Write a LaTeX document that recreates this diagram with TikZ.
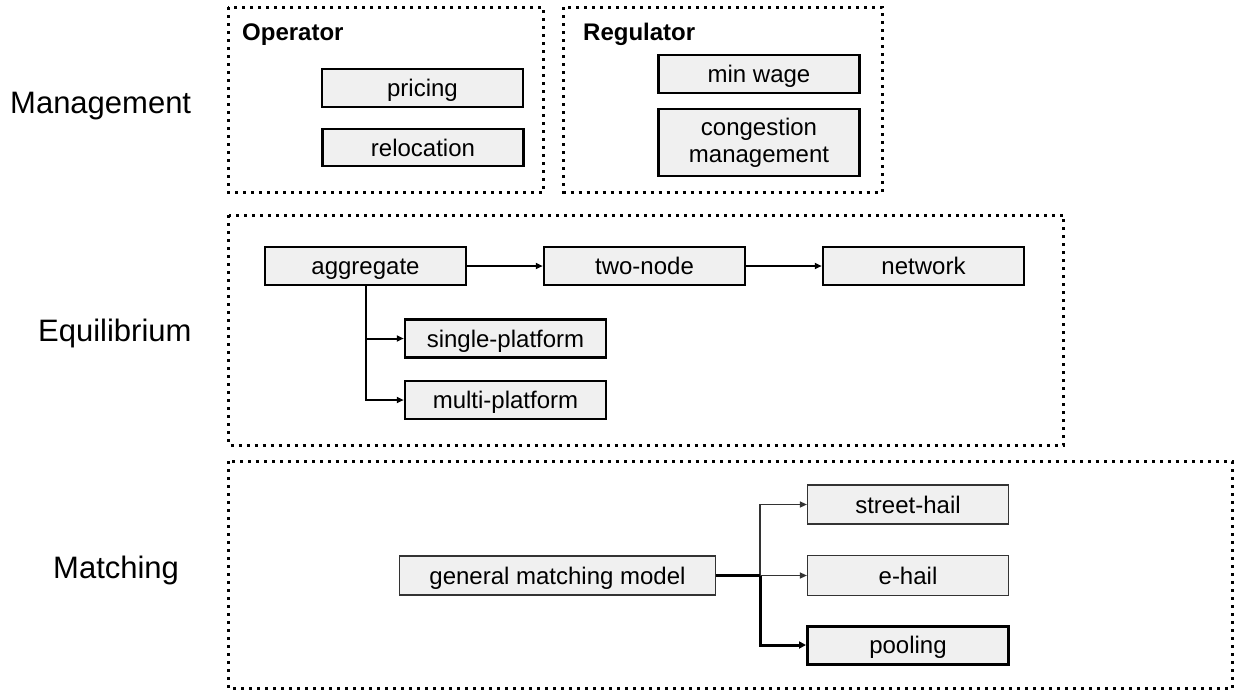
\documentclass[tikz,border=0pt]{standalone}
\usepackage{fontspec}
\setmainfont{Liberation Sans}
\usetikzlibrary{arrows.meta}
\definecolor{boxgray}{RGB}{240,240,240}
\begin{document}
\begin{tikzpicture}[x=1pt,y=-1pt,
  group/.style={draw=black, line width=3pt, dash pattern=on 3pt off 5pt},
  lbl/.style={anchor=base west, inner sep=0pt, font=\fontsize{31}{36}\selectfont},
  grouptitle/.style={anchor=base west, inner sep=0pt, font=\fontsize{24}{28}\selectfont\bfseries},
  box/.style={draw=black, line width=2.5pt, fill=boxgray, minimum width=201pt, minimum height=38pt,
    inner sep=0pt, text height=17pt, text depth=0pt, font=\fontsize{24}{28}\selectfont},
  twoline/.style={box, text height=, text depth=, align=center, font=\fontsize{24}{27}\selectfont},
  thinbox/.style={box, line width=1.2pt, draw=black!80},
  thickbox/.style={box, line width=3pt},
  arr/.style={line width=2pt, -{Triangle[length=7pt,width=6pt]}},
  thinarr/.style={line width=1.3pt, draw=black!80, -{Triangle[length=7pt,width=6pt]}},
  thickarr/.style={line width=3pt, -{Triangle[length=7pt,width=7pt]}}
]
\useasboundingbox (0,0) rectangle (1234,694);

% group frames
\draw[group] (228,7) rectangle (543.5,192);
\draw[group] (563.5,7) rectangle (882,192);
\draw[group] (228.5,215) rectangle (1063.5,445);
\draw[group] (228.5,461) rectangle (1232,688.5);

% side labels
\node[lbl] (lmanagement) at (10,113) {Management};
\node[lbl] (lequilibrium) at (38,341) {Equilibrium};
\node[lbl] (lmatching) at (53,578) {Matching};

% group titles
\node[grouptitle] (operator) at (242,40) {Operator};
\node[grouptitle] (regulator) at (583,40) {Regulator};

% management boxes
\node[box] (pricing) at (422.5,88) {pricing};
\node[box, minimum height=37pt] (relocation) at (423,147.5) {relocation};
\node[box] (minwage) at (759,74) {min wage};
\node[twoline, minimum height=67pt] (congestion) at (759,142.5) {congestion\\management};

% equilibrium boxes
\node[box] (aggregate) at (365.5,266) {aggregate};
\node[box] (twonode) at (644.5,266) {two-node};
\node[box] (network) at (923.5,266) {network};
\node[box] (single) at (505.5,338.5) {single-platform};
\node[box] (multi) at (505.5,400) {multi-platform};

\draw[arr] (aggregate) -- (twonode);
\draw[arr] (twonode) -- (network);
\draw[arr] (aggregate.south) |- (single.west);
\draw[arr] (aggregate.south) |- (multi.west);

% matching boxes
\node[thinbox, minimum width=316pt, minimum height=39pt] (gmm) at (557.5,575.5) {general matching model};
\node[thinbox, minimum height=39pt] (streethail) at (908,504.5) {street-hail};
\node[thinbox, minimum height=40pt] (ehail) at (908,575.5) {e-hail};
\node[thickbox] (pooling) at (908,645) {pooling};

\coordinate (br) at (760,575.5);
\draw[thinarr] (br) |- (streethail.west);
\draw[thinarr] (br) -- (ehail.west);
\draw[line width=3pt] (gmm.east) -- (br);
\draw[thickarr] (br) |- (pooling.west);
\end{tikzpicture}
\end{document}
